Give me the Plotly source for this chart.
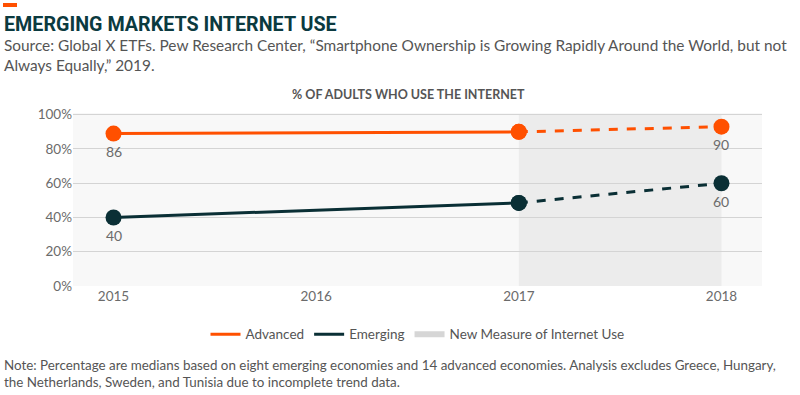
import plotly.graph_objects as go

years = [2015, 2017, 2018]
advanced = [89, 90, 93]
emerging = [40, 48.5, 60]
adv_labels = ["86", "", "90"]
emg_labels = ["40", "", "60"]
shade_x = [2017, 2018]
y_ticks = [0, 20, 40, 60, 80, 100]
y_ticklabels = ["0%", "20%", "40%", "60%", "80%", "100%"]
x_ticks = [2015, 2016, 2017, 2018]

ORANGE = "#ff5000"
DARK = "#0a2f35"
FONT = "Lato"
GRAY = "#555555"
PW, PH = 689, 173

fig = go.Figure()

# shaded region
fig.add_shape(type="rect", xref="x", yref="y", x0=shade_x[0], x1=shade_x[1], y0=0, y1=100,
              fillcolor="#ececec", line=dict(width=0), layer="below")

# legend-only traces
fig.add_trace(go.Scatter(x=[None], y=[None], mode="lines", line=dict(color=ORANGE, width=3),
                         name="Advanced"))
fig.add_trace(go.Scatter(x=[None], y=[None], mode="lines", line=dict(color=DARK, width=3),
                         name="Emerging"))
fig.add_trace(go.Scatter(x=[None], y=[None], fill="toself", fillcolor="#d6d6d6", mode="none",
                         name="New Measure of Internet Use"))

# solid parts
fig.add_trace(go.Scatter(x=years[:2], y=advanced[:2], mode="lines+markers",
    line=dict(color=ORANGE, width=3), marker=dict(size=16, color=ORANGE), showlegend=False))
fig.add_trace(go.Scatter(x=years[:2], y=emerging[:2], mode="lines+markers",
    line=dict(color=DARK, width=3), marker=dict(size=16, color=DARK), showlegend=False))
# dashed parts
fig.add_trace(go.Scatter(x=years[1:], y=advanced[1:], mode="lines+markers",
    line=dict(color=ORANGE, width=3, dash="dash"), marker=dict(size=16, color=ORANGE),
    showlegend=False))
fig.add_trace(go.Scatter(x=years[1:], y=emerging[1:], mode="lines+markers",
    line=dict(color=DARK, width=3, dash="dash"), marker=dict(size=16, color=DARK),
    showlegend=False))

# data labels
for xs, ys, labels in [(years, advanced, adv_labels), (years, emerging, emg_labels)]:
    for xv, yv, lab in zip(xs, ys, labels):
        if lab:
            fig.add_annotation(x=xv, y=yv, text=lab, showarrow=False, yshift=-18,
                               yanchor="middle", font=dict(size=14, color="#6b6b6b", family=FONT))

fig.update_layout(
    width=800, height=395,
    margin=dict(l=73, r=38, t=113, b=109),
    paper_bgcolor="white", plot_bgcolor="#f8f8f8",
    font=dict(family=FONT, color=GRAY, size=13),
    showlegend=True,
    legend=dict(orientation="h", x=0.5, xanchor="center", y=-0.19, yanchor="top",
                font=dict(size=13.5, color="#555555", family=FONT), bgcolor="rgba(0,0,0,0)",
                itemwidth=30, traceorder="normal"),
    xaxis=dict(range=[2014.8, 2018.2], tickvals=x_ticks, ticktext=[str(v) for v in x_ticks],
               showgrid=False, zeroline=False, showline=False, ticks="",
               tickfont=dict(size=13.5, color="#6b6b6b"), fixedrange=True),
    yaxis=dict(range=[0, 101], tickvals=y_ticks, ticktext=y_ticklabels,
               showgrid=True, gridcolor="#d4d4d4", gridwidth=1, zeroline=False,
               showline=False, ticks="", tickfont=dict(size=13.5, color="#6b6b6b"), fixedrange=True),
)

fig.add_shape(type="rect", xref="paper", yref="paper", x0=-70/PW, x1=-56/PW,
              y0=1 + 106/PH, y1=1 + 110/PH, fillcolor=ORANGE, line=dict(width=0))

fig.add_annotation(text="<b>EMERGING MARKETS INTERNET USE</b>", xref="paper", yref="paper",
                   x=-71/PW, y=1 + (113 - 24) / PH, xanchor="left", yanchor="middle",
                   showarrow=False, font=dict(family="Roboto", size=19.7, color="#0b3a3f"))
fig.add_annotation(text="Source: Global X ETFs. Pew Research Center, \u201cSmartphone Ownership is Growing Rapidly Around the World, but not<br>Always Equally,\u201d 2019.",
                   xref="paper", yref="paper", x=-71/PW, y=1 + (113 - 34) / PH,
                   xanchor="left", yanchor="top", align="left", showarrow=False,
                   font=dict(family=FONT, size=15.4, color=GRAY))
fig.add_annotation(text="<b>% OF ADULTS WHO USE THE INTERNET</b>", xref="paper", yref="paper",
                   x=(408 - 73) / PW, y=1 + (113 - 94) / PH, xanchor="center", yanchor="middle",
                   showarrow=False, font=dict(family=FONT, size=12.5, color="#555555"))
fig.add_annotation(text="Note: Percentage are medians based on eight emerging economies and 14 advanced economies. Analysis excludes Greece, Hungary,<br>the Netherlands, Sweden, and Tunisia due to incomplete trend data.",
                   xref="paper", yref="paper", x=-71/PW, y=-(355 - 286) / PH,
                   xanchor="left", yanchor="top", align="left", showarrow=False,
                   font=dict(family=FONT, size=13.4, color=GRAY))

fig.write_html("out.html", config={"displayModeBar": False},
               post_script="document.body.style.margin='0';document.body.style.overflow='hidden';")
